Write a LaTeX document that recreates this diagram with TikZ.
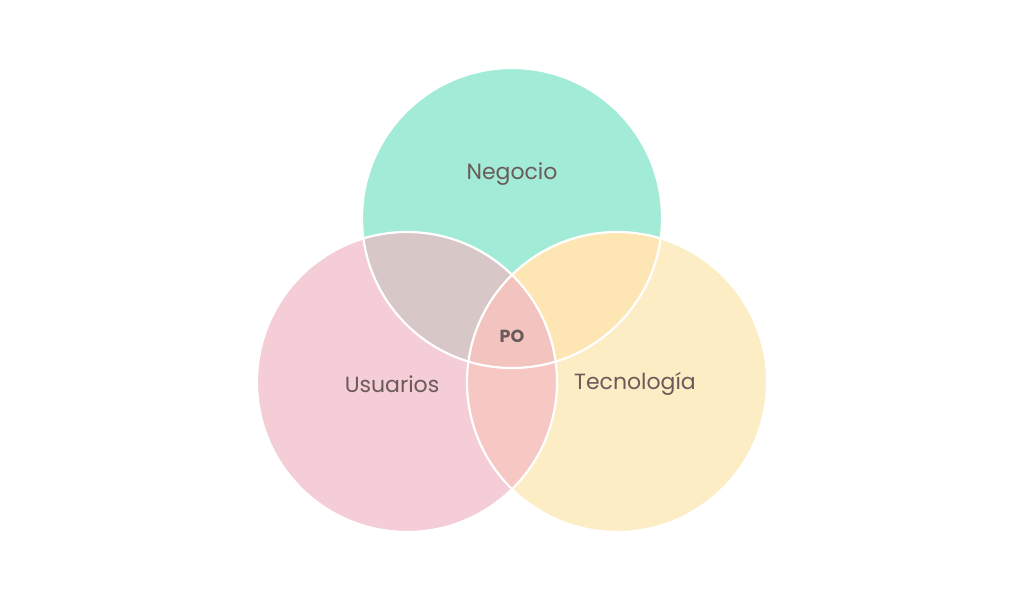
\documentclass[tikz,border=0pt]{standalone}
\usepackage{fontspec}
\setmainfont{Poppins}
\definecolor{cgreen}{HTML}{A2EBD6}
\definecolor{cpink}{HTML}{F4CDD6}
\definecolor{cyellow}{HTML}{FDEDC4}
\definecolor{cgray}{HTML}{D7C7C7}
\definecolor{corange}{HTML}{FDE6B3}
\definecolor{csalmon}{HTML}{F7C7C4}
\definecolor{ccenter}{HTML}{F3C3BF}
\definecolor{ctext}{HTML}{6B5A5A}
\begin{document}
\begin{tikzpicture}[x=1pt,y=1pt,
  lbl/.style={text=ctext,font=\fontsize{22}{25}\selectfont},
  ring/.style={draw=white,line width=2.2pt}]
\useasboundingbox (0,0) rectangle (1024,600);
\fill[white] (0,0) rectangle (1024,600);
\def\rr{150}
\coordinate (T) at (512,382);
\coordinate (L) at (407,218);
\coordinate (R) at (617,218);
\fill[cgreen] (T) circle (\rr);
\fill[cpink] (L) circle (\rr);
\fill[cyellow] (R) circle (\rr);
\begin{scope}
  \clip (T) circle (\rr);
  \fill[cgray] (L) circle (\rr);
  \fill[corange] (R) circle (\rr);
\end{scope}
\begin{scope}
  \clip (L) circle (\rr);
  \fill[csalmon] (R) circle (\rr);
  \clip (R) circle (\rr);
  \fill[ccenter] (T) circle (\rr);
\end{scope}
\draw[ring] (T) circle (\rr);
\draw[ring] (L) circle (\rr);
\draw[ring] (R) circle (\rr);
\node[lbl] (neg) at (512,426) {Negocio};
\node[lbl] (usu) at (392,216) {Usuarios};
\node[lbl] (tec) at (635,216) {Tecnología};
\node[text=ctext,font=\fontsize{17.5}{20}\selectfont\bfseries] (po) at (512,264) {PO};
\end{tikzpicture}
\end{document}
